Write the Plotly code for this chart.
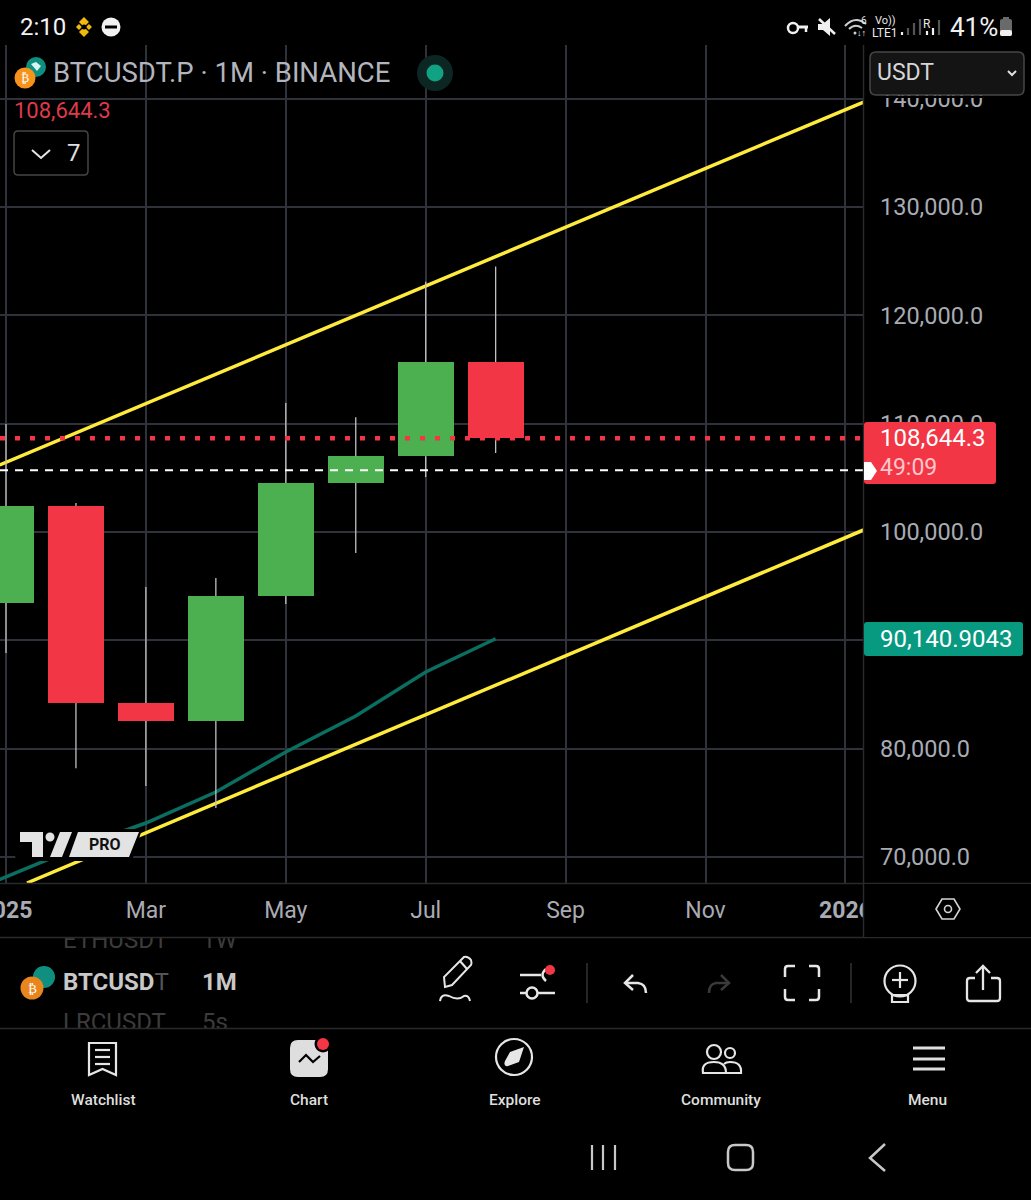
import re
import plotly.graph_objects as go

# ---------- data ----------
month_index = [0, 1, 2, 3, 4, 5, 6, 7]
opens = [93450, 102400, 84215, 82550, 94100, 104520, 107000, 115700]
closes = [102400, 84215, 82550, 94100, 104520, 107000, 115700, 108644.3]
highs = [109970, 102680, 94930, 95750, 111900, 110600, 123100, 124500]
lows = [88830, 78200, 76550, 74520, 93350, 98060, 105080, 107300]

ma_index = [-1, 0, 1, 2, 3, 4, 5, 6, 7]
ma_values = [65570, 68155, 70830, 73135, 75995, 79690, 83010, 87075, 90140.9]

upper_channel_index = [-0.09, 12.26]
upper_channel_values = [106185, 139692]
lower_channel_index = [0.3, 12.26]
lower_channel_values = [67598, 100185]

last_price = 108644.3
prev_level = 105700

x_tick_index = [0, 2, 4, 6, 8, 10, 12]
x_tick_labels = ["<b>2025</b>", "Mar", "May", "Jul", "Sep", "Nov", "<b>2026</b>"]
y_ticks = [70000, 80000, 90000, 100000, 110000, 120000, 130000, 140000]
y_tick_labels = ["70,000.0", "80,000.0", "", "100,000.0", "110,000.0", "120,000.0", "130,000.0", "140,000.0"]

# ---------- style ----------
W, H = 1031, 1200
GRID = "#30323b"
SEP = "#2a2a2e"
GREEN = "#4caf50"
RED = "#f23645"
TEAL = "#0a6e60"
YELLOW = "#ffeb3b"
AXTXT = "#a9abb3"
X_LEFT, X_RIGHT = -6 / 69.95, 857 / 69.95
Y_BOT, Y_TOP = 67598, 144954
ICON = "#e6e6e6"

shapes = []
annots = []


def px(x, y):
    return x / W, 1 - y / H


def path(d, color=None, w=2, fill=None):
    def conv(m):
        x, y = px(float(m.group(1)), float(m.group(2)))
        return f"{x:.5f} {y:.5f}"
    dd = re.sub(r"(-?\d+\.?\d*)[ ,]+(-?\d+\.?\d*)", conv, d)
    shapes.append(dict(type="path", path=dd, xref="paper", yref="paper", layer="above",
                       line=dict(color=color or "rgba(0,0,0,0)", width=w if color else 0),
                       fillcolor=fill or "rgba(0,0,0,0)"))


def line(x0, y0, x1, y1, color=ICON, w=2):
    path(f"M{x0} {y0} L{x1} {y1}", color, w)


def rect(x0, y0, x1, y1, fill=None, color=None, w=1):
    path(f"M{x0} {y0} L{x1} {y0} L{x1} {y1} L{x0} {y1} Z", color, w, fill)


def rrect(x0, y0, x1, y1, r, fill=None, color=None, w=1):
    path(f"M{x0+r} {y0} L{x1-r} {y0} Q{x1} {y0} {x1} {y0+r} L{x1} {y1-r} Q{x1} {y1} {x1-r} {y1} "
         f"L{x0+r} {y1} Q{x0} {y1} {x0} {y1-r} L{x0} {y0+r} Q{x0} {y0} {x0+r} {y0} Z", color, w, fill)


def circ(cx, cy, r, fill=None, color=None, w=2):
    x0, y1 = px(cx - r, cy - r)
    x1, y0 = px(cx + r, cy + r)
    shapes.append(dict(type="circle", xref="paper", yref="paper", layer="above", x0=x0, x1=x1, y0=y0, y1=y1,
                       line=dict(color=color or "rgba(0,0,0,0)", width=w if color else 0),
                       fillcolor=fill or "rgba(0,0,0,0)"))


def text(x, y, s, size, color="#ffffff", anchor="left", family="Roboto", weight=400):
    xp, yp = px(x, y)
    annots.append(dict(x=xp, y=yp, xref="paper", yref="paper", text=s, showarrow=False, xanchor=anchor,
                       yanchor="middle", font=dict(size=size, color=color, family=family, weight=weight),
                       borderpad=0, borderwidth=0))


# ---------- traces ----------
fig = go.Figure()
body_base = [min(o, c) for o, c in zip(opens, closes)]
body_size = [abs(o - c) for o, c in zip(opens, closes)]
body_color = [GREEN if c >= o else RED for o, c in zip(opens, closes)]
fig.add_trace(go.Bar(x=month_index, y=body_size, base=body_base, width=0.8, marker=dict(color=body_color, line_width=0),
                     showlegend=False, hoverinfo="skip"))

fig.add_trace(go.Scatter(x=upper_channel_index, y=upper_channel_values, mode="lines",
                         line=dict(color=YELLOW, width=3.5), showlegend=False))
fig.add_trace(go.Scatter(x=lower_channel_index, y=lower_channel_values, mode="lines",
                         line=dict(color=YELLOW, width=3.5), showlegend=False))
fig.add_trace(go.Scatter(x=ma_index, y=ma_values, mode="lines",
                         line=dict(color=TEAL, width=3.5), showlegend=False))

wx, wy = [], []
for i, o, c, h, l in zip(month_index, opens, closes, highs, lows):
    wx += [i, i, None, i, i, None]
    wy += [h, max(o, c), None, min(o, c), l, None]
fig.add_trace(go.Scatter(x=wx, y=wy, mode="lines", line=dict(color="#c0c0c0", width=1.3), showlegend=False))

fig.add_trace(go.Scatter(x=[X_LEFT, X_RIGHT], y=[prev_level, prev_level], mode="lines",
                         line=dict(color="#ffffff", width=1.8, dash="8px,7px"), showlegend=False))
fig.add_trace(go.Scatter(x=[X_LEFT, X_RIGHT], y=[last_price, last_price], mode="lines",
                         line=dict(color=RED, width=4.5, dash="5px,10px"), showlegend=False))

# ticker list text (clipped by its own strip of the page)
list_x = [63, 202, 63, 202, 63, 202]
list_y = [942, 942, 984, 984, 1024, 1024]
list_txt = ["ETHUSDT", "1W", "<b>BTCUSD</b><span style='color:#555555'>T</span>", "<b>1M</b>", "LRCUSDT", "5s"]
list_col = ["#3c3c3c", "#3c3c3c", "#c8c8c8", "#c8c8c8", "#3c3c3c", "#3c3c3c"]
fig.add_trace(go.Scatter(x=list_x, y=list_y, mode="text", text=list_txt, textposition="middle right",
                         textfont=dict(size=24, color=list_col, family="Roboto"), xaxis="x2", yaxis="y2",
                         showlegend=False, cliponaxis=True))

# ---------- chrome: separators ----------
line(0, 883.5, W, 883.5, SEP, 1.5)
line(0, 937.5, W, 937.5, SEP, 1.5)
line(0, 1028.5, W, 1028.5, SEP, 1.5)
rect(864, 884, W, 937, fill="#000000")
line(863.5, 45, 863.5, 937, SEP, 1.5)

# status bar
text(20, 27, "2:10", 24, "#f2f2f2")
path("M84 17 L89 22 L84 27 L79 22 Z M84 37 L79 32 L84 27 L89 32 Z", None, 0, "#f0b90b")
path("M76 27 L79 24 L82 27 L79 30 Z M92 27 L89 24 L86 27 L89 30 Z", None, 0, "#f0b90b")
circ(84, 27, 2.5, fill="#000000")
circ(111, 27, 9.5, fill="#f2f2f2")
rect(105, 25.5, 117, 28.5, fill="#000000")
# key
circ(793, 28, 5, color="#f0f0f0", w=2.5)
line(798, 27, 808, 27, "#f0f0f0", 3)
line(806, 27, 806, 32, "#f0f0f0", 2.5)
# mute
path("M818 24 L823 24 L830 18 L830 36 L823 30 L818 30 Z", None, 0, "#f0f0f0")
line(819, 19, 835, 34, "#f0f0f0", 2.5)
# wifi
path("M845 26 Q855 15 866 24", "#cfcfcf", 2)
path("M849 29 Q855 23 862 28", "#cfcfcf", 2)
circ(855, 33, 1.5, fill="#cfcfcf")
text(861, 21, "6", 10, "#e8e8e8")
text(857, 33, "↓↑", 9, "#e8e8e8")
text(875, 21, "Vo))", 11, "#e8e8e8")
text(872, 33, "LTE1", 12, "#e8e8e8")
for i, (xb, yb) in enumerate([(902, 32), (908, 28), (914, 23), (920, 19)]):
    line(xb, 35, xb, yb, "#f0f0f0" if i == 0 else "#555555", 2.2)
text(923, 24, "R", 12, "#e8e8e8")
for i, (xb, yb) in enumerate([(927, 31), (933, 28), (939, 20)]):
    line(xb, 35, xb, yb, "#f0f0f0" if i < 2 else "#555555", 2.2)
text(950, 27, "41%", 26, "#f0f0f0")
rrect(1000, 19, 1012, 36, 2, fill="#6a6a6a")
rect(1003, 17, 1009, 20, fill="#6a6a6a")
rrect(1000, 30, 1012, 36, 2, fill="#f0f0f0")

# header legend
circ(36, 67, 10, fill="#0e8f80")
path("M31 64 L36 62 L41 66 L37 71 Z", None, 0, "#d8f5ef")
circ(25, 78, 10.5, fill="#f7931a")
text(25, 78, "₿", 12, "#ffffff", "center", "DejaVu Sans")
text(53, 73, "BTCUSDT.P · 1M · BINANCE", 27.5, "#b2b5be")
circ(435, 73, 18, fill="#0c2623")
circ(435, 73, 8.5, fill="#10a283")
text(14, 110, "108,644.3", 22, "#df3a49")
rrect(14, 131, 88, 175, 4, fill="#000000", color="#454545", w=1.5)
path("M32 150 L41 158 L50 150", "#e6e6e6", 2)
text(67, 153, "7", 24, "#e0e0e0")

# USDT box
rrect(870, 52, 1024, 95, 6, fill="#141414", color="#474747", w=1.5)
rect(866, 96, W, 98, fill="#000000")
text(877, 73, "USDT", 23, "#d6d6d6")
path("M1008 71 L1012 75 L1016 71", "#e0e0e0", 2)

# price labels
rrect(864, 422, 996, 484, 3, fill=RED)
text(880, 438, "108,644.3", 24, "#ffffff")
text(880, 467, "49:09", 23, "#ffc7cc")
path("M864 462 L871 462 L877 471 L871 480 L864 480 Z", None, 0, "#ffffff")
rrect(864, 622, 1023, 656, 3, fill="#089981")
text(880, 639, "90,140.9043", 24, "#ffffff")

# TradingView PRO watermark
path("M17 829 L142 829 L132 861 L15 861 Z", None, 0, "#000000")
path("M20 832 L43 832 L43 857 L32 857 L32 842 L20 842 Z", None, 0, "#e3e3e3")
circ(50, 837, 4.5, fill="#e3e3e3")
path("M60 832 L72 832 L62 857 L50 857 Z", None, 0, "#e3e3e3")
path("M78 832 L139 832 L129 857 L69 857 Z", None, 0, "#e3e3e3")
text(105, 844, "<b>PRO</b>", 16, "#111111", "center")

# hexagon settings icon
path("M936 909 L942 899 L954 899 L960 909 L954 919 L942 919 Z", "#d5d5d5", 1.6)
circ(948, 909, 3.5, color="#d5d5d5", w=1.6)

# toolbar
path("M445 987 L444 977 L464 957 Q468 956 471 960 Q472 963 471 965 L452 985 Z", ICON, 2)
path("M460 961 L467 969", ICON, 2)
path("M440 1001 Q441 993 449 996 Q458 1001 464 996 Q469 995 470 1001", ICON, 2)
line(520, 975, 541, 975, ICON, 2.5)
path("M546 969 Q539 975 546 981", ICON, 2.5)
circ(550, 970, 5, fill=RED)
line(520, 993, 526, 993, ICON, 2.5)
circ(532, 993, 5.5, color=ICON, w=2.5)
line(538, 993, 555, 993, ICON, 2.5)
line(587, 963, 587, 1003, "#333333", 1.5)
path("M633 975 L625 983 L633 990", ICON, 2.5)
path("M625 983 L638 983 Q646 984 646 993", ICON, 2.5)
path("M721 975 L729 983 L721 990", "#3a3a3a", 2.5)
path("M729 983 L716 983 Q709 984 709 993", "#3a3a3a", 2.5)
for a, b, c, d in [(785, 977, 795, 966), (819, 977, 809, 966), (785, 989, 795, 1000), (819, 989, 809, 1000)]:
    path(f"M{a} {b} L{a} {d + (3 if d < b else -3)} Q{a} {d} {a + (3 if a < c else -3)} {d} L{c} {d}", ICON, 2.5)
line(851, 963, 851, 1003, "#333333", 1.5)
circ(900, 981, 15.5, color=ICON, w=2.2)
line(892, 980, 908, 980, ICON, 2.2)
line(900, 972, 900, 988, ICON, 2.2)
rect(892, 995, 908, 1002, color=ICON, w=2.2)
path("M975 978 L970 978 Q967 978 967 981 L967 998 Q967 1001 970 1001 L997 1001 Q1000 1001 1000 998 L1000 981 Q1000 978 997 978 L991 978",
     ICON, 2.3)
line(983, 967, 983, 990, ICON, 2.3)
path("M976 973 L983 966 L990 973", ICON, 2.3)

# BTC row logo
circ(44, 977, 11, fill="#0e8f80")
circ(32, 988, 11.5, fill="#e8861d")
text(32, 988, "₿", 13, "#ffffff", "center", "DejaVu Sans")

# bottom nav
path("M89 1043 L116 1043 L116 1075 L102.5 1069 L89 1075 Z", ICON, 2.2)
for yy in (1050, 1057, 1064):
    line(95, yy, 110, yy, ICON, 2.2)
text(103, 1100, "Watchlist", 15.5, "#dedede", "center", weight=500)
rrect(290, 1040, 328, 1077, 8, fill="#dedede")
path("M299 1062 L306 1055 L313 1062 L320 1056", "#000000", 2.2)
circ(323, 1044, 8.5, fill="#000000")
circ(323, 1044, 6, fill=RED)
text(309, 1100, "Chart", 15.5, "#dedede", "center", weight=500)
circ(514, 1057, 18, color=ICON, w=2.2)
path("M524 1047 L519 1062 L508 1066 Q503 1067 505 1061 L510 1052 Z", None, 0, ICON)
text(515, 1100, "Explore", 15.5, "#dedede", "center", weight=500)
circ(714, 1052, 7, color=ICON, w=2.2)
circ(730, 1053, 5, color=ICON, w=2.2)
path("M703 1073 Q701 1062 714 1062 Q726 1062 726 1073 Z", ICON, 2.2)
path("M726 1073 L741 1073 Q742 1062 730 1062 Q726 1062 724 1064", ICON, 2.2)
text(721, 1100, "Community", 15.5, "#dedede", "center", weight=500)
for yy in (1048, 1059, 1069):
    line(913, yy, 945, yy, "#dedede", 3)
text(927, 1100, "Menu", 15.5, "#dedede", "center", weight=500)

# android nav
for xx in (592, 603, 615):
    line(xx, 1145, xx, 1170, "#c8c8c8", 2.2)
rrect(728, 1145, 753, 1170, 7, color="#c8c8c8", w=2.5)
path("M885 1144 L870 1158 L885 1171", "#c8c8c8", 2.5)

# ---------- layout ----------
fig.update_layout(
    width=W, height=H, autosize=False, margin=dict(l=0, r=0, t=0, b=0),
    paper_bgcolor="#000000", plot_bgcolor="#000000", showlegend=False, bargap=0,
    font=dict(family="Roboto", color=AXTXT),
    xaxis=dict(domain=[0, 863 / W], range=[X_LEFT, X_RIGHT], tickmode="array", tickvals=x_tick_index,
               ticktext=x_tick_labels, showgrid=True, gridcolor=GRID, gridwidth=1.5, zeroline=False, showline=False,
               ticks="", ticklabelstandoff=11, ticklabeloverflow="allow", tickfont=dict(size=23, color=AXTXT),
               anchor="y", fixedrange=True, automargin=False),
    yaxis=dict(domain=[1 - 883 / H, 1 - 45 / H], range=[Y_BOT, Y_TOP], side="right", tickmode="array",
               tickvals=y_ticks, ticktext=y_tick_labels, showgrid=True, gridcolor=GRID, gridwidth=1.5, zeroline=False,
               showline=False, ticks="", ticklabelstandoff=16, tickfont=dict(size=23.5, color=AXTXT),
               anchor="x", fixedrange=True, automargin=False),
    xaxis2=dict(domain=[0, 1], range=[0, W], visible=False, anchor="y2", fixedrange=True, automargin=False),
    yaxis2=dict(domain=[1 - 1028 / H, 1 - 938 / H], range=[1028, 938], visible=False, anchor="x2", fixedrange=True,
                automargin=False),
    shapes=shapes, annotations=annots,
)

fig.write_html("out.html", config={"displayModeBar": False},
               post_script="document.body.style.margin='0';document.body.style.background='#000';")
